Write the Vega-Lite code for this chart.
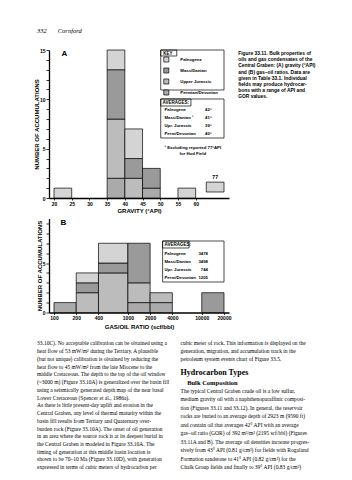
{
  "$schema": "https://vega.github.io/schema/vega-lite/v6.json",
  "background": "white",
  "padding": {"left": 33, "top": 27, "right": 4, "bottom": 4},
  "bounds": "flush",
  "spacing": 20.5,
  "config": {
    "view": {"stroke": null},
    "font": "Liberation Sans",
    "axis": {
      "domainColor": "black", "domainWidth": 1.3, "tickColor": "black", "tickWidth": 0.8,
      "labelColor": "black", "labelFontSize": 5, "labelFontWeight": "bold", "labelFont": "Liberation Sans",
      "titleColor": "black", "titleFontSize": 6, "titleFontWeight": "bold", "titleFont": "Liberation Sans",
      "grid": false, "labelFlush": false, "labelOverlap": false, "labelAngle": 0
    }
  },
  "resolve": {"scale": {"fill": "independent"}},
  "datasets": {
    "gravity": [
      {"lo": 20, "hi": 25, "age": "Paleogene", "k": 4, "n": 1},
      {"lo": 35, "hi": 40, "age": "Permian/Devonian", "k": 1, "n": 2},
      {"lo": 35, "hi": 40, "age": "Upper Jurassic", "k": 2, "n": 6},
      {"lo": 35, "hi": 40, "age": "Mass/Danian", "k": 3, "n": 5},
      {"lo": 35, "hi": 40, "age": "Paleogene", "k": 4, "n": 2},
      {"lo": 40, "hi": 45, "age": "Upper Jurassic", "k": 2, "n": 2},
      {"lo": 40, "hi": 45, "age": "Mass/Danian", "k": 3, "n": 2},
      {"lo": 40, "hi": 45, "age": "Paleogene", "k": 4, "n": 3},
      {"lo": 45, "hi": 50, "age": "Permian/Devonian", "k": 1, "n": 1},
      {"lo": 45, "hi": 50, "age": "Mass/Danian", "k": 3, "n": 2},
      {"lo": 55, "hi": 60, "age": "Paleogene", "k": 4, "n": 1}
    ],
    "hod": [
      {"api": 77, "lo": 63, "hi": 68, "age": "Paleogene", "k": 4, "n": 1}
    ],
    "gor": [
      {"lo": 100, "hi": 200, "age": "Permian/Devonian", "k": 1, "n": 1},
      {"lo": 200, "hi": 400, "age": "Upper Jurassic", "k": 2, "n": 2},
      {"lo": 200, "hi": 400, "age": "Mass/Danian", "k": 3, "n": 1},
      {"lo": 200, "hi": 400, "age": "Paleogene", "k": 4, "n": 1},
      {"lo": 400, "hi": 1000, "age": "Upper Jurassic", "k": 2, "n": 4},
      {"lo": 400, "hi": 1000, "age": "Mass/Danian", "k": 3, "n": 1},
      {"lo": 400, "hi": 1000, "age": "Paleogene", "k": 4, "n": 2},
      {"lo": 1000, "hi": 2000, "age": "Permian/Devonian", "k": 1, "n": 1},
      {"lo": 1000, "hi": 2000, "age": "Upper Jurassic", "k": 2, "n": 2},
      {"lo": 1000, "hi": 2000, "age": "Mass/Danian", "k": 3, "n": 4},
      {"lo": 2000, "hi": 4000, "age": "Permian/Devonian", "k": 1, "n": 1},
      {"lo": 2000, "hi": 4000, "age": "Upper Jurassic", "k": 2, "n": 1},
      {"lo": 10000, "hi": 20000, "age": "Mass/Danian", "k": 3, "n": 2}
    ]
  },
  "vconcat": [
    {
      "width": 180,
      "height": 148,
      "layer": [
        {
          "data": {"name": "gravity"},
          "mark": {"type": "bar", "orient": "vertical", "stroke": "black", "strokeWidth": 0.7},
          "encoding": {
            "x": {"field": "lo", "type": "quantitative", "scale": {"domain": [20, 68], "nice": false, "zero": false},
                  "axis": {"values": [20, 25, 30, 35, 40, 45, 50, 55, 60], "labelOverlap": false, "title": "GRAVITY (°API)", "tickSize": 2, "labelPadding": 1, "titlePadding": 1.5}},
            "x2": {"field": "hi"},
            "y": {"field": "n", "type": "quantitative", "stack": "zero", "scale": {"domain": [0, 15], "nice": false, "zero": false},
                  "axis": {"values": [0,1,2,3,4,5,6,7,8,9,10,11,12,13,14,15], "labelOverlap": false, "labelExpr": "datum.value % 5 === 0 ? datum.label : ''", "title": "NUMBER OF ACCUMULATIONS", "tickSize": 3, "labelPadding": 1, "titlePadding": 0}},
            "fill": {"field": "age", "type": "nominal",
                     "scale": {"domain": ["Paleogene", "Mass/Danian", "Upper Jurassic", "Permian/Devonian"], "range": ["#d4d4d4", "#9a9a9a", "#bcbcbc", "#aaaaaa"]},
                     "legend": {"orient": "none", "legendX": 114.3, "legendY": 0.8, "title": "KEY", "titleFontSize": 4.5, "titleFontWeight": "bold", "titleColor": "black", "titlePadding": 1.2, "labelFontSize": 4.3, "labelFontWeight": "bold", "labelColor": "black", "labelOffset": 11, "symbolType": "square", "symbolSize": 25, "symbolStrokeColor": "black", "symbolStrokeWidth": 0.7, "symbolOpacity": 1, "rowPadding": 3, "padding": 0}},
            "order": {"field": "k", "type": "quantitative"}
          }
        },
        {
          "data": {"name": "hod"},
          "mark": {"type": "bar", "orient": "vertical", "stroke": "black", "strokeWidth": 0.7, "yOffset": -6},
          "encoding": {
            "x": {"field": "lo", "type": "quantitative", "scale": {"domain": [20, 68], "nice": false, "zero": false},
                  "axis": {"values": [20, 25, 30, 35, 40, 45, 50, 55, 60], "labelOverlap": false, "title": "GRAVITY (°API)", "tickSize": 2, "labelPadding": 1, "titlePadding": 1.5}},
            "x2": {"field": "hi"},
            "y": {"field": "n", "type": "quantitative", "scale": {"domain": [0, 15], "nice": false, "zero": false},
                  "axis": {"values": [0,1,2,3,4,5,6,7,8,9,10,11,12,13,14,15], "labelOverlap": false, "labelExpr": "datum.value % 5 === 0 ? datum.label : ''", "title": "NUMBER OF ACCUMULATIONS", "tickSize": 3, "labelPadding": 1, "titlePadding": 0}},
            "fill": {"field": "age", "type": "nominal"}
          }
        },
        {
          "data": {"name": "hod"},
          "mark": {"type": "text", "fontSize": 5, "fontWeight": "bold", "baseline": "middle", "align": "center"},
          "encoding": {
            "x": {"datum": 65.5, "type": "quantitative", "scale": {"domain": [20, 68], "nice": false, "zero": false},
                  "axis": {"values": [20, 25, 30, 35, 40, 45, 50, 55, 60], "labelOverlap": false, "title": "GRAVITY (°API)", "tickSize": 2, "labelPadding": 1, "titlePadding": 1.5}},
            "y": {"datum": 2.128, "type": "quantitative", "scale": {"domain": [0, 15], "nice": false, "zero": false},
                  "axis": {"values": [0,1,2,3,4,5,6,7,8,9,10,11,12,13,14,15], "labelOverlap": false, "labelExpr": "datum.value % 5 === 0 ? datum.label : ''", "title": "NUMBER OF ACCUMULATIONS", "tickSize": 3, "labelPadding": 1, "titlePadding": 0}},
            "text": {"field": "api", "type": "nominal"}
          }
        },
        {
          "data": {"values": [{}]},
          "mark": {"type": "text", "text": "332", "font": "Liberation Serif", "fontStyle": "italic", "fontSize": 6.5, "align": "left", "baseline": "top"},
          "encoding": {
            "x": {"datum": 15.2, "type": "quantitative", "scale": {"domain": [20, 68], "nice": false, "zero": false},
                  "axis": {"values": [20, 25, 30, 35, 40, 45, 50, 55, 60], "labelOverlap": false, "title": "GRAVITY (°API)", "tickSize": 2, "labelPadding": 1, "titlePadding": 1.5}},
            "y": {"datum": 17.23, "type": "quantitative", "scale": {"domain": [0, 15], "nice": false, "zero": false},
                  "axis": {"values": [0,1,2,3,4,5,6,7,8,9,10,11,12,13,14,15], "labelOverlap": false, "labelExpr": "datum.value % 5 === 0 ? datum.label : ''", "title": "NUMBER OF ACCUMULATIONS", "tickSize": 3, "labelPadding": 1, "titlePadding": 0}}
          }
        },
        {
          "data": {"values": [{}]},
          "mark": {"type": "text", "text": "Cornford", "font": "Liberation Serif", "fontStyle": "italic", "fontSize": 6.5, "align": "left", "baseline": "top"},
          "encoding": {
            "x": {"datum": 21.067, "type": "quantitative", "scale": {"domain": [20, 68], "nice": false, "zero": false},
                  "axis": {"values": [20, 25, 30, 35, 40, 45, 50, 55, 60], "labelOverlap": false, "title": "GRAVITY (°API)", "tickSize": 2, "labelPadding": 1, "titlePadding": 1.5}},
            "y": {"datum": 17.23, "type": "quantitative", "scale": {"domain": [0, 15], "nice": false, "zero": false},
                  "axis": {"values": [0,1,2,3,4,5,6,7,8,9,10,11,12,13,14,15], "labelOverlap": false, "labelExpr": "datum.value % 5 === 0 ? datum.label : ''", "title": "NUMBER OF ACCUMULATIONS", "tickSize": 3, "labelPadding": 1, "titlePadding": 0}}
          }
        },
        {
          "data": {"values": [{}]},
          "mark": {"type": "text", "text": "A", "fontSize": 8, "fontWeight": "bold", "align": "left", "baseline": "middle"},
          "encoding": {
            "x": {"datum": 22.133, "type": "quantitative", "scale": {"domain": [20, 68], "nice": false, "zero": false},
                  "axis": {"values": [20, 25, 30, 35, 40, 45, 50, 55, 60], "labelOverlap": false, "title": "GRAVITY (°API)", "tickSize": 2, "labelPadding": 1, "titlePadding": 1.5}},
            "y": {"datum": 14.595, "type": "quantitative", "scale": {"domain": [0, 15], "nice": false, "zero": false},
                  "axis": {"values": [0,1,2,3,4,5,6,7,8,9,10,11,12,13,14,15], "labelOverlap": false, "labelExpr": "datum.value % 5 === 0 ? datum.label : ''", "title": "NUMBER OF ACCUMULATIONS", "tickSize": 3, "labelPadding": 1, "titlePadding": 0}}
          }
        },
        {
          "data": {"values": [{}]},
          "mark": {"type": "text", "fontSize": 4.9, "fontWeight": "bold", "align": "left", "baseline": "top", "lineHeight": 6.1,
                   "text": ["Figure 33.11. Bulk properties of", "oils and gas condensates of the", "Central Graben: (A) gravity (°API)", "and (B) gas–oil ratios. Data are", "given in Table 33.1. Individual", "fields may produce hydrocar-", "bons with a range of API and", "GOR values."]},
          "encoding": {
            "x": {"datum": 72, "type": "quantitative", "scale": {"domain": [20, 68], "nice": false, "zero": false},
                  "axis": {"values": [20, 25, 30, 35, 40, 45, 50, 55, 60], "labelOverlap": false, "title": "GRAVITY (°API)", "tickSize": 2, "labelPadding": 1, "titlePadding": 1.5}},
            "y": {"datum": 14.868, "type": "quantitative", "scale": {"domain": [0, 15], "nice": false, "zero": false},
                  "axis": {"values": [0,1,2,3,4,5,6,7,8,9,10,11,12,13,14,15], "labelOverlap": false, "labelExpr": "datum.value % 5 === 0 ? datum.label : ''", "title": "NUMBER OF ACCUMULATIONS", "tickSize": 3, "labelPadding": 1, "titlePadding": 0}}
          }
        },
        {
          "data": {"values": [{}]},
          "mark": {"type": "rect", "fillOpacity": 0, "stroke": "black", "strokeWidth": 0.7},
          "encoding": {
            "x": {"datum": 50.133, "type": "quantitative", "scale": {"domain": [20, 68], "nice": false, "zero": false},
                  "axis": {"values": [20, 25, 30, 35, 40, 45, 50, 55, 60], "labelOverlap": false, "title": "GRAVITY (°API)", "tickSize": 2, "labelPadding": 1, "titlePadding": 1.5}},
            "x2": {"datum": 68},
            "y": {"datum": 15, "type": "quantitative", "scale": {"domain": [0, 15], "nice": false, "zero": false},
                  "axis": {"values": [0,1,2,3,4,5,6,7,8,9,10,11,12,13,14,15], "labelOverlap": false, "labelExpr": "datum.value % 5 === 0 ? datum.label : ''", "title": "NUMBER OF ACCUMULATIONS", "tickSize": 3, "labelPadding": 1, "titlePadding": 0}},
            "y2": {"datum": 10.946}
          }
        },
        {
          "data": {"values": [{}]},
          "mark": {"type": "rect", "fillOpacity": 0, "stroke": "black", "strokeWidth": 0.7},
          "encoding": {
            "x": {"datum": 50.133, "type": "quantitative", "scale": {"domain": [20, 68], "nice": false, "zero": false},
                  "axis": {"values": [20, 25, 30, 35, 40, 45, 50, 55, 60], "labelOverlap": false, "title": "GRAVITY (°API)", "tickSize": 2, "labelPadding": 1, "titlePadding": 1.5}},
            "x2": {"datum": 54.667},
            "y": {"datum": 15, "type": "quantitative", "scale": {"domain": [0, 15], "nice": false, "zero": false},
                  "axis": {"values": [0,1,2,3,4,5,6,7,8,9,10,11,12,13,14,15], "labelOverlap": false, "labelExpr": "datum.value % 5 === 0 ? datum.label : ''", "title": "NUMBER OF ACCUMULATIONS", "tickSize": 3, "labelPadding": 1, "titlePadding": 0}},
            "y2": {"datum": 14.392}
          }
        },
        {
          "data": {"values": [{}]},
          "mark": {"type": "rect", "fillOpacity": 0, "stroke": "black", "strokeWidth": 0.7},
          "encoding": {
            "x": {"datum": 50.133, "type": "quantitative", "scale": {"domain": [20, 68], "nice": false, "zero": false},
                  "axis": {"values": [20, 25, 30, 35, 40, 45, 50, 55, 60], "labelOverlap": false, "title": "GRAVITY (°API)", "tickSize": 2, "labelPadding": 1, "titlePadding": 1.5}},
            "x2": {"datum": 68},
            "y": {"datum": 10.034, "type": "quantitative", "scale": {"domain": [0, 15], "nice": false, "zero": false},
                  "axis": {"values": [0,1,2,3,4,5,6,7,8,9,10,11,12,13,14,15], "labelOverlap": false, "labelExpr": "datum.value % 5 === 0 ? datum.label : ''", "title": "NUMBER OF ACCUMULATIONS", "tickSize": 3, "labelPadding": 1, "titlePadding": 0}},
            "y2": {"datum": 6.081}
          }
        },
        {
          "data": {"values": [{}]},
          "mark": {"type": "rect", "fillOpacity": 0, "stroke": "black", "strokeWidth": 0.7},
          "encoding": {
            "x": {"datum": 50.133, "type": "quantitative", "scale": {"domain": [20, 68], "nice": false, "zero": false},
                  "axis": {"values": [20, 25, 30, 35, 40, 45, 50, 55, 60], "labelOverlap": false, "title": "GRAVITY (°API)", "tickSize": 2, "labelPadding": 1, "titlePadding": 1.5}},
            "x2": {"datum": 58.667},
            "y": {"datum": 10.034, "type": "quantitative", "scale": {"domain": [0, 15], "nice": false, "zero": false},
                  "axis": {"values": [0,1,2,3,4,5,6,7,8,9,10,11,12,13,14,15], "labelOverlap": false, "labelExpr": "datum.value % 5 === 0 ? datum.label : ''", "title": "NUMBER OF ACCUMULATIONS", "tickSize": 3, "labelPadding": 1, "titlePadding": 0}},
            "y2": {"datum": 9.324}
          }
        },
        {
          "data": {"values": [{}]},
          "mark": {"type": "text", "text": "AVERAGES:", "fontSize": 4.5, "fontWeight": "bold", "align": "left", "baseline": "alphabetic"},
          "encoding": {
            "x": {"datum": 50.667, "type": "quantitative", "scale": {"domain": [20, 68], "nice": false, "zero": false},
                  "axis": {"values": [20, 25, 30, 35, 40, 45, 50, 55, 60], "labelOverlap": false, "title": "GRAVITY (°API)", "tickSize": 2, "labelPadding": 1, "titlePadding": 1.5}},
            "y": {"datum": 9.486, "type": "quantitative", "scale": {"domain": [0, 15], "nice": false, "zero": false},
                  "axis": {"values": [0,1,2,3,4,5,6,7,8,9,10,11,12,13,14,15], "labelOverlap": false, "labelExpr": "datum.value % 5 === 0 ? datum.label : ''", "title": "NUMBER OF ACCUMULATIONS", "tickSize": 3, "labelPadding": 1, "titlePadding": 0}}
          }
        },
        {
          "data": {"values": [{}]},
          "mark": {"type": "text", "fontSize": 4.3, "fontWeight": "bold", "align": "left", "baseline": "alphabetic", "lineHeight": 8,
                   "text": ["Paleogene", "Mass/Danian ¹", "Upr. Jurassic", "Perm/Devonian"]},
          "encoding": {
            "x": {"datum": 51.2, "type": "quantitative", "scale": {"domain": [20, 68], "nice": false, "zero": false},
                  "axis": {"values": [20, 25, 30, 35, 40, 45, 50, 55, 60], "labelOverlap": false, "title": "GRAVITY (°API)", "tickSize": 2, "labelPadding": 1, "titlePadding": 1.5}},
            "y": {"datum": 8.777, "type": "quantitative", "scale": {"domain": [0, 15], "nice": false, "zero": false},
                  "axis": {"values": [0,1,2,3,4,5,6,7,8,9,10,11,12,13,14,15], "labelOverlap": false, "labelExpr": "datum.value % 5 === 0 ? datum.label : ''", "title": "NUMBER OF ACCUMULATIONS", "tickSize": 3, "labelPadding": 1, "titlePadding": 0}}
          }
        },
        {
          "data": {"values": [{}]},
          "mark": {"type": "text", "fontSize": 4.3, "fontWeight": "bold", "align": "left", "baseline": "alphabetic", "lineHeight": 8,
                   "text": ["42°", "41°", "39°", "40°"]},
          "encoding": {
            "x": {"datum": 62.667, "type": "quantitative", "scale": {"domain": [20, 68], "nice": false, "zero": false},
                  "axis": {"values": [20, 25, 30, 35, 40, 45, 50, 55, 60], "labelOverlap": false, "title": "GRAVITY (°API)", "tickSize": 2, "labelPadding": 1, "titlePadding": 1.5}},
            "y": {"datum": 8.777, "type": "quantitative", "scale": {"domain": [0, 15], "nice": false, "zero": false},
                  "axis": {"values": [0,1,2,3,4,5,6,7,8,9,10,11,12,13,14,15], "labelOverlap": false, "labelExpr": "datum.value % 5 === 0 ? datum.label : ''", "title": "NUMBER OF ACCUMULATIONS", "tickSize": 3, "labelPadding": 1, "titlePadding": 0}}
          }
        },
        {
          "data": {"values": [{}]},
          "mark": {"type": "text", "fontSize": 4.3, "fontWeight": "bold", "align": "center", "baseline": "alphabetic", "lineHeight": 5.6,
                   "text": ["¹ Excluding reported 77°API", "for Hod Field"]},
          "encoding": {
            "x": {"datum": 59.2, "type": "quantitative", "scale": {"domain": [20, 68], "nice": false, "zero": false},
                  "axis": {"values": [20, 25, 30, 35, 40, 45, 50, 55, 60], "labelOverlap": false, "title": "GRAVITY (°API)", "tickSize": 2, "labelPadding": 1, "titlePadding": 1.5}},
            "y": {"datum": 4.936, "type": "quantitative", "scale": {"domain": [0, 15], "nice": false, "zero": false},
                  "axis": {"values": [0,1,2,3,4,5,6,7,8,9,10,11,12,13,14,15], "labelOverlap": false, "labelExpr": "datum.value % 5 === 0 ? datum.label : ''", "title": "NUMBER OF ACCUMULATIONS", "tickSize": 3, "labelPadding": 1, "titlePadding": 0}}
          }
        }
      ]
    },
    {
      "width": 180,
      "height": 94,
      "layer": [
        {
          "data": {"name": "gor"},
          "mark": {"type": "bar", "orient": "vertical", "stroke": "black", "strokeWidth": 0.7},
          "encoding": {
            "x": {"field": "lo", "type": "quantitative", "scale": {"type": "log", "domain": [100, 20000], "nice": false},
                  "axis": {"values": [100, 200, 400, 1000, 2000, 4000, 10000, 20000], "format": "d", "labelOverlap": false, "title": "GAS/OIL RATIO (scf/bbl)", "tickSize": 2, "labelPadding": 1, "titlePadding": 2.5}},
            "x2": {"field": "hi"},
            "y": {"field": "n", "type": "quantitative", "stack": "zero", "scale": {"domain": [0, 9.5], "nice": false, "zero": false},
                  "axis": {"values": [0,1,2,3,4,5,6,7,8,9], "labelOverlap": false, "labelExpr": "datum.value % 5 === 0 ? datum.label : ''", "title": "NUMBER OF ACCUMULATIONS", "tickSize": 3, "labelPadding": 1, "titlePadding": 0}},
            "fill": {"field": "age", "type": "nominal",
                     "scale": {"domain": ["Paleogene", "Mass/Danian", "Upper Jurassic", "Permian/Devonian"], "range": ["#d4d4d4", "#9a9a9a", "#bcbcbc", "#aaaaaa"]},
                     "legend": null},
            "order": {"field": "k", "type": "quantitative"}
          }
        },
        {
          "data": {"values": [{}]},
          "mark": {"type": "text", "text": "B", "fontSize": 8, "fontWeight": "bold", "align": "left", "baseline": "middle"},
          "encoding": {
            "x": {"datum": 122.9, "type": "quantitative", "scale": {"type": "log", "domain": [100, 20000], "nice": false},
                  "axis": {"values": [100, 200, 400, 1000, 2000, 4000, 10000, 20000], "format": "d", "labelOverlap": false, "title": "GAS/OIL RATIO (scf/bbl)", "tickSize": 2, "labelPadding": 1, "titlePadding": 2.5}},
            "y": {"datum": 9.025, "type": "quantitative", "scale": {"domain": [0, 9.5], "nice": false, "zero": false},
                  "axis": {"values": [0,1,2,3,4,5,6,7,8,9], "labelOverlap": false, "labelExpr": "datum.value % 5 === 0 ? datum.label : ''", "title": "NUMBER OF ACCUMULATIONS", "tickSize": 3, "labelPadding": 1, "titlePadding": 0}}
          }
        },
        {
          "data": {"values": [{}]},
          "mark": {"type": "rect", "fillOpacity": 0, "stroke": "black", "strokeWidth": 0.7},
          "encoding": {
            "x": {"datum": 2952, "type": "quantitative", "scale": {"type": "log", "domain": [100, 20000], "nice": false},
                  "axis": {"values": [100, 200, 400, 1000, 2000, 4000, 10000, 20000], "format": "d", "labelOverlap": false, "title": "GAS/OIL RATIO (scf/bbl)", "tickSize": 2, "labelPadding": 1, "titlePadding": 2.5}},
            "x2": {"datum": 20000},
            "y": {"datum": 7.226, "type": "quantitative", "scale": {"domain": [0, 9.5], "nice": false, "zero": false},
                  "axis": {"values": [0,1,2,3,4,5,6,7,8,9], "labelOverlap": false, "labelExpr": "datum.value % 5 === 0 ? datum.label : ''", "title": "NUMBER OF ACCUMULATIONS", "tickSize": 3, "labelPadding": 1, "titlePadding": 0}},
            "y2": {"datum": 3.083}
          }
        },
        {
          "data": {"values": [{}]},
          "mark": {"type": "rect", "fillOpacity": 0, "stroke": "black", "strokeWidth": 0.7},
          "encoding": {
            "x": {"datum": 2952, "type": "quantitative", "scale": {"type": "log", "domain": [100, 20000], "nice": false},
                  "axis": {"values": [100, 200, 400, 1000, 2000, 4000, 10000, 20000], "format": "d", "labelOverlap": false, "title": "GAS/OIL RATIO (scf/bbl)", "tickSize": 2, "labelPadding": 1, "titlePadding": 2.5}},
            "x2": {"datum": 6733},
            "y": {"datum": 7.226, "type": "quantitative", "scale": {"domain": [0, 9.5], "nice": false, "zero": false},
                  "axis": {"values": [0,1,2,3,4,5,6,7,8,9], "labelOverlap": false, "labelExpr": "datum.value % 5 === 0 ? datum.label : ''", "title": "NUMBER OF ACCUMULATIONS", "tickSize": 3, "labelPadding": 1, "titlePadding": 0}},
            "y2": {"datum": 6.519}
          }
        },
        {
          "data": {"values": [{}]},
          "mark": {"type": "text", "text": "AVERAGES:", "fontSize": 4.5, "fontWeight": "bold", "align": "left", "baseline": "alphabetic"},
          "encoding": {
            "x": {"datum": 3131, "type": "quantitative", "scale": {"type": "log", "domain": [100, 20000], "nice": false},
                  "axis": {"values": [100, 200, 400, 1000, 2000, 4000, 10000, 20000], "format": "d", "labelOverlap": false, "title": "GAS/OIL RATIO (scf/bbl)", "tickSize": 2, "labelPadding": 1, "titlePadding": 2.5}},
            "y": {"datum": 6.69, "type": "quantitative", "scale": {"domain": [0, 9.5], "nice": false, "zero": false},
                  "axis": {"values": [0,1,2,3,4,5,6,7,8,9], "labelOverlap": false, "labelExpr": "datum.value % 5 === 0 ? datum.label : ''", "title": "NUMBER OF ACCUMULATIONS", "tickSize": 3, "labelPadding": 1, "titlePadding": 0}}
          }
        },
        {
          "data": {"values": [{}]},
          "mark": {"type": "text", "fontSize": 4.3, "fontWeight": "bold", "align": "left", "baseline": "alphabetic", "lineHeight": 8,
                   "text": ["Paleogene", "Mass/Danian", "Upr. Jurassic", "Perm/Devonian"]},
          "encoding": {
            "x": {"datum": 3131, "type": "quantitative", "scale": {"type": "log", "domain": [100, 20000], "nice": false},
                  "axis": {"values": [100, 200, 400, 1000, 2000, 4000, 10000, 20000], "format": "d", "labelOverlap": false, "title": "GAS/OIL RATIO (scf/bbl)", "tickSize": 2, "labelPadding": 1, "titlePadding": 2.5}},
            "y": {"datum": 5.811, "type": "quantitative", "scale": {"domain": [0, 9.5], "nice": false, "zero": false},
                  "axis": {"values": [0,1,2,3,4,5,6,7,8,9], "labelOverlap": false, "labelExpr": "datum.value % 5 === 0 ? datum.label : ''", "title": "NUMBER OF ACCUMULATIONS", "tickSize": 3, "labelPadding": 1, "titlePadding": 0}}
          }
        },
        {
          "data": {"values": [{}]},
          "mark": {"type": "text", "fontSize": 4.3, "fontWeight": "bold", "align": "right", "baseline": "alphabetic", "lineHeight": 8,
                   "text": ["3478", "3498", "744", "1205"]},
          "encoding": {
            "x": {"datum": 12130, "type": "quantitative", "scale": {"type": "log", "domain": [100, 20000], "nice": false},
                  "axis": {"values": [100, 200, 400, 1000, 2000, 4000, 10000, 20000], "format": "d", "labelOverlap": false, "title": "GAS/OIL RATIO (scf/bbl)", "tickSize": 2, "labelPadding": 1, "titlePadding": 2.5}},
            "y": {"datum": 5.811, "type": "quantitative", "scale": {"domain": [0, 9.5], "nice": false, "zero": false},
                  "axis": {"values": [0,1,2,3,4,5,6,7,8,9], "labelOverlap": false, "labelExpr": "datum.value % 5 === 0 ? datum.label : ''", "title": "NUMBER OF ACCUMULATIONS", "tickSize": 3, "labelPadding": 1, "titlePadding": 0}}
          }
        },
        {
          "data": {"values": [{}]},
          "mark": {"type": "text", "font": "Liberation Serif", "fontSize": 5.5, "align": "left", "baseline": "alphabetic", "lineHeight": 7.73,
                   "text": ["33.10C). No acceptable calibration can be obtained using a", "heat flow of 53 mW/m² during the Tertiary. A plausible", "(but not unique) calibration is obtained by reducing the", "heat flow to 45 mW/m² from the late Miocene to the", "middle Cretaceous. The depth to the top of the oil window", "(~3000 m) (Figure 33.10A) is generalized over the basin fill", "using a seismically generated depth map of the near basal", "Lower Cretaceous (Spencer et al., 1986a).", "\u00a0\u00a0\u00a0As there is little present-day uplift and erosion in the", "Central Graben, any level of thermal maturity within the", "basin fill results from Tertiary and Quaternary over-", "burden rock (Figure 33.10A). The onset of oil generation", "in an area where the source rock is at its deepest burial in", "the Central Graben is modeled in Figure 33.10A. The", "timing of generation at this middle basin location is", "shown to be 70–10 Ma (Figure 33.10D), with generation", "expressed in terms of cubic meters of hydrocarbon per"]},
          "encoding": {
            "x": {"datum": 58.88, "type": "quantitative", "scale": {"type": "log", "domain": [100, 20000], "nice": false},
                  "axis": {"values": [100, 200, 400, 1000, 2000, 4000, 10000, 20000], "format": "d", "labelOverlap": false, "title": "GAS/OIL RATIO (scf/bbl)", "tickSize": 2, "labelPadding": 1, "titlePadding": 2.5}},
            "y": {"datum": -3.335, "type": "quantitative", "scale": {"domain": [0, 9.5], "nice": false, "zero": false},
                  "axis": {"values": [0,1,2,3,4,5,6,7,8,9], "labelOverlap": false, "labelExpr": "datum.value % 5 === 0 ? datum.label : ''", "title": "NUMBER OF ACCUMULATIONS", "tickSize": 3, "labelPadding": 1, "titlePadding": 0}}
          }
        },
        {
          "data": {"values": [{}]},
          "mark": {"type": "text", "font": "Liberation Serif", "fontSize": 5.5, "align": "left", "baseline": "alphabetic", "lineHeight": 7.73,
                   "text": ["cubic meter of rock. This information is displayed on the", "generation, migration, and accumulation track in the", "petroleum system events chart of Figure 33.5."]},
          "encoding": {
            "x": {"datum": 5164, "type": "quantitative", "scale": {"type": "log", "domain": [100, 20000], "nice": false},
                  "axis": {"values": [100, 200, 400, 1000, 2000, 4000, 10000, 20000], "format": "d", "labelOverlap": false, "title": "GAS/OIL RATIO (scf/bbl)", "tickSize": 2, "labelPadding": 1, "titlePadding": 2.5}},
            "y": {"datum": -3.335, "type": "quantitative", "scale": {"domain": [0, 9.5], "nice": false, "zero": false},
                  "axis": {"values": [0,1,2,3,4,5,6,7,8,9], "labelOverlap": false, "labelExpr": "datum.value % 5 === 0 ? datum.label : ''", "title": "NUMBER OF ACCUMULATIONS", "tickSize": 3, "labelPadding": 1, "titlePadding": 0}}
          }
        },
        {
          "data": {"values": [{}]},
          "mark": {"type": "text", "text": "Hydrocarbon Types", "font": "Liberation Serif", "fontWeight": "bold", "fontSize": 8, "align": "left", "baseline": "alphabetic"},
          "encoding": {
            "x": {"datum": 5164, "type": "quantitative", "scale": {"type": "log", "domain": [100, 20000], "nice": false},
                  "axis": {"values": [100, 200, 400, 1000, 2000, 4000, 10000, 20000], "format": "d", "labelOverlap": false, "title": "GAS/OIL RATIO (scf/bbl)", "tickSize": 2, "labelPadding": 1, "titlePadding": 2.5}},
            "y": {"datum": -6.357, "type": "quantitative", "scale": {"domain": [0, 9.5], "nice": false, "zero": false},
                  "axis": {"values": [0,1,2,3,4,5,6,7,8,9], "labelOverlap": false, "labelExpr": "datum.value % 5 === 0 ? datum.label : ''", "title": "NUMBER OF ACCUMULATIONS", "tickSize": 3, "labelPadding": 1, "titlePadding": 0}}
          }
        },
        {
          "data": {"values": [{}]},
          "mark": {"type": "text", "text": "Bulk Composition", "font": "Liberation Serif", "fontWeight": "bold", "fontSize": 6.5, "align": "left", "baseline": "alphabetic"},
          "encoding": {
            "x": {"datum": 6346, "type": "quantitative", "scale": {"type": "log", "domain": [100, 20000], "nice": false},
                  "axis": {"values": [100, 200, 400, 1000, 2000, 4000, 10000, 20000], "format": "d", "labelOverlap": false, "title": "GAS/OIL RATIO (scf/bbl)", "tickSize": 2, "labelPadding": 1, "titlePadding": 2.5}},
            "y": {"datum": -7.327, "type": "quantitative", "scale": {"domain": [0, 9.5], "nice": false, "zero": false},
                  "axis": {"values": [0,1,2,3,4,5,6,7,8,9], "labelOverlap": false, "labelExpr": "datum.value % 5 === 0 ? datum.label : ''", "title": "NUMBER OF ACCUMULATIONS", "tickSize": 3, "labelPadding": 1, "titlePadding": 0}}
          }
        },
        {
          "data": {"values": [{}]},
          "mark": {"type": "text", "font": "Liberation Serif", "fontSize": 5.5, "align": "left", "baseline": "alphabetic", "lineHeight": 8.45,
                   "text": ["\u00a0\u00a0\u00a0The typical Central Graben crude oil is a low sulfur,", "medium gravity oil with a naphthenoparaffinic composi-", "tion (Figures 33.11 and 33.12). In general, the reservoir", "rocks are buried to an average depth of 2923 m (9590 ft)", "and contain oil that averages 42° API with an average", "gas–oil ratio (GOR) of 392 m³/m³ (2195 scf/bbl) (Figures", "33.11A and B). The average oil densities increase progres-", "sively from 43° API (0.81 g/cm³) for fields with Rogaland", "Formation sandstone to 41° API (0.82 g/cm³) for the", "Chalk Group fields and finally to 39° API (0.83 g/cm³)"]},
          "encoding": {
            "x": {"datum": 5164, "type": "quantitative", "scale": {"type": "log", "domain": [100, 20000], "nice": false},
                  "axis": {"values": [100, 200, 400, 1000, 2000, 4000, 10000, 20000], "format": "d", "labelOverlap": false, "title": "GAS/OIL RATIO (scf/bbl)", "tickSize": 2, "labelPadding": 1, "titlePadding": 2.5}},
            "y": {"datum": -8.136, "type": "quantitative", "scale": {"domain": [0, 9.5], "nice": false, "zero": false},
                  "axis": {"values": [0,1,2,3,4,5,6,7,8,9], "labelOverlap": false, "labelExpr": "datum.value % 5 === 0 ? datum.label : ''", "title": "NUMBER OF ACCUMULATIONS", "tickSize": 3, "labelPadding": 1, "titlePadding": 0}}
          }
        }
      ]
    }
  ]
}
